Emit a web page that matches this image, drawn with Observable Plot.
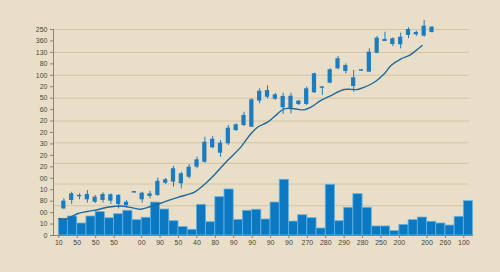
<!DOCTYPE html>
<html><head><meta charset="utf-8">
<script src="https://cdn.jsdelivr.net/npm/d3@7"></script>
<script src="https://cdn.jsdelivr.net/npm/@observablehq/plot@0.6"></script>
<style>
html,body{margin:0;padding:0;background:#e9dfc8;}
#chart{width:500px;height:272px;}
svg{display:block;}
</style></head><body><div id="chart"></div>
<script>
// ---- data ----
const volume = [14.6,16.6,10.5,16.6,20.4,15.1,18.6,21.6,13.4,15.5,28.8,22.7,12.5,7.3,5.0,26.8,11.6,33.5,40.2,13.7,21.6,22.5,14.0,28.8,48.7,12.2,17.7,15.1,6.1,44.3,12.5,24.2,36.1,24.2,7.9,7.9,3.8,9.3,13.4,15.7,12.0,10.5,8.7,16.3,30.0];

const candleOpen  = [23.3,30.6,33.8,31.2,29.1,30.6,30.0,27.1,26.2,37.1,31.2,34.1,35.0,45.7,46.6,45.2,50.9,59.7,64.0,76.6,71.9,80.1,91.7,96.1,94.6,117.4,120.8,119.1,111.6,110.7,114.5,114.5,124.7,128.6,133.1,145.7,143.3,130.2,143.6,142.7,159.3,169.5,166.9,166.6,174.8,175.4,174.2,177.4];
const candleClose = [30.0,36.4,34.4,35.8,33.5,35.8,35.6,35.0,29.1,38.0,37.0,36.4,47.4,48.7,58.3,53.9,59.7,66.1,81.5,84.1,80.7,93.8,96.7,104.9,118.6,126.1,126.7,122.9,121.5,121.7,117.4,128.2,141.3,129.6,144.8,154.4,148.5,137.8,144.8,160.2,172.4,171.3,171.9,173.3,180.0,177.4,182.9,182.0];
const candleHigh  = [32.1,37.8,36.4,39.3,35.0,37.3,36.4,35.8,30.6,38.0,37.8,38.7,50.1,49.8,60.3,55.3,62.0,68.4,85.9,86.5,83.0,96.1,97.6,107.7,119.4,128.2,130.8,124.1,124.3,124.3,118.0,129.6,141.8,129.6,145.7,156.4,150.0,144.2,144.8,163.1,173.9,177.6,172.8,176.8,181.5,178.5,187.9,182.6];
const candleLow   = [22.5,27.1,31.2,28.2,28.0,28.2,27.1,23.3,25.3,37.1,28.2,32.1,34.1,44.6,42.2,40.8,49.5,58.3,63.2,75.8,68.4,78.6,90.9,95.2,94.6,115.1,119.4,118.0,105.7,106.3,113.6,113.6,124.3,122.3,132.6,144.8,141.3,125.2,143.6,142.7,158.8,169.5,165.1,163.1,171.9,173.9,173.3,176.9];

const maX = [0,0.91,2.0,3.09,4.18,5.27,6.17,7.07,8.16,8.89,9.98,11.07,12.08,13.24,14.69,15.42,16.51,18.32,19.77,20.86,21.59,22.68,23.76,24.48,25.57,26.66,27.39,28.48,29.56,31.01,32.47,33.19,34.28,35.36,36.09,37.18,38.08,38.81,39.47];
const maY = [14.6,14.6,19.0,21.0,22.5,24.7,25.6,25.6,23.9,23.0,25.3,28.2,31.2,34.1,37.6,41.9,49.8,65.5,77.2,88.9,94.6,99.0,106.3,110.7,110.7,109.8,112.1,118.0,122.3,127.6,127.6,129.6,133.9,141.3,148.5,154.4,157.3,161.7,166.0];

const yTickValues = [0,10,20,30,40,50,60,70,80,90,100,110,120,130,140,150,160,170,180];
const yTickLabels = ["0","10","00","80","10","00","20","20","30","20","20","60","50","20","100","80","130","360","250"];
const gridValues  = [180,160,140,120,100,81,63,45,26];

const xTickValues = [0,2,4,6,9,11,13,15,17,19,21,23,25,27,29,31,33,35,37,40,42,44];
const xTickLabels = ["10","50","50","50","00","90","50","40","80","90","90","90","90","270","280","290","280","250","200","200","260","100"];

// ---- build tables ----
const bars = volume.map((v, i) => ({i, v}));
const candleStart = 0.544, candleStep = 0.851;
const candles = candleOpen.map((o, k) => {
  const c = candleClose[k];
  const lo = Math.min(o, c), hi = Math.max(o, c);
  return {x: candleStart + k * candleStep, top: Math.max(hi, lo + 1.3), bot: lo, high: candleHigh[k], low: candleLow[k]};
});
const ma = maX.map((x, i) => ({x, y: maY[i]}));

const X0 = -0.58, X1 = 45.05;
const blue = "#0b78c1";
const chart = Plot.plot({
  width: 500, height: 272,
  marginLeft: 53, marginRight: 27, marginTop: 29, marginBottom: 37,
  style: {background: "transparent", fontFamily: "'Liberation Sans', Arial, sans-serif", fontSize: "7px", color: "#4a4438"},
  x: {domain: [X0, X1], axis: null, label: null},
  y: {domain: [0, 180], axis: null, label: null},
  marks: [
    Plot.ruleY(gridValues, {x1: X0, x2: 44.58, stroke: "#d2c4a6", strokeWidth: 1}),
    Plot.rectY(bars, {x1: d => d.i, x2: d => d.i + 1, y: "v", fill: blue, stroke: "#63b2e4", strokeWidth: 0.8}),
    Plot.ruleX(candles, {x: "x", y1: "low", y2: "high", stroke: "#1c7cc0", strokeWidth: 1}),
    Plot.rect(candles, {x1: d => d.x - 0.23, x2: d => d.x + 0.23, y1: "bot", y2: "top", fill: "#1c7cc0"}),
    Plot.line(ma, {x: "x", y: "y", curve: "catmull-rom", stroke: "#1f6a9c", strokeWidth: 1.4}),
    Plot.ruleX([X0], {y1: 0, y2: 180, stroke: "#8c8372", strokeWidth: 1}),
    Plot.ruleY([0], {x1: X0, x2: X1, stroke: "#8c8372", strokeWidth: 1}),
    Plot.axisY({ticks: yTickValues, tickFormat: d => yTickLabels[yTickValues.indexOf(d)], tickSize: 3, tickPadding: 3, label: null, stroke: "#8c8372", fill: "#4a4438"}),
    Plot.axisX({ticks: xTickValues, tickFormat: d => xTickLabels[xTickValues.indexOf(d)], tickSize: 3, tickPadding: 2, label: null, stroke: "#8c8372", fill: "#4a4438"})
  ]
});
document.getElementById("chart").appendChild(chart);
</script>
</body></html>
